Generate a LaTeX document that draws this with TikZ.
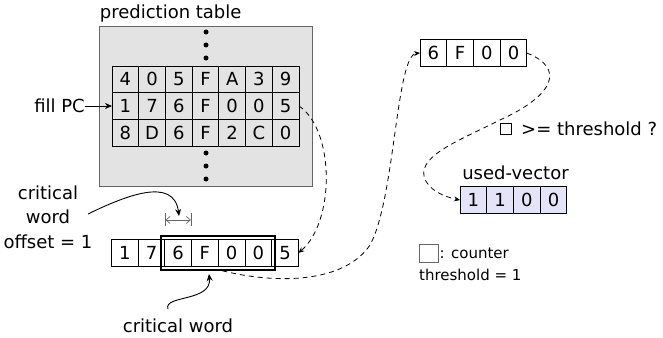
\documentclass[tikz,border=0pt]{standalone}
\usepackage{fontspec}
\setmainfont{DejaVu Sans}
\usetikzlibrary{arrows.meta, fit, backgrounds}
\definecolor{tablefill}{RGB}{227,227,227}
\definecolor{usedfill}{RGB}{228,228,248}

\begin{document}
\begin{tikzpicture}[x=1pt, y=-1pt,
        font=\fontsize{18}{24.5}\selectfont,
        node cell/.style = {rectangle, draw, line width=0.8pt, minimum width=26.7pt, minimum height=26.7pt, inner sep=0pt, outer sep=0pt},
        node used/.style = {node cell, fill=usedfill},
        node dot/.style = {circle, fill=black, inner sep=0pt, minimum size=5pt},  % Style for the dots
        node crit/.style = {rectangle, draw, line width=1.8pt, inner sep=3.5pt},
        node label/.style = {inner sep=0pt},
        legend text/.style = {inner sep=0pt, font=\fontsize{15}{18}\selectfont},
        solid arrow/.style = {line width=0.9pt, -{Stealth[length=7pt, width=6pt]}},
        dashed arrow/.style = {line width=0.8pt, dash pattern=on 5pt off 4pt, -{Stealth[length=6pt, width=5pt]}},
        dim arrow/.style = {draw=black!60, line width=0.7pt, arrows={Bar[width=13pt].Straight Barb[length=4pt, width=7pt]-Straight Barb[length=4pt, width=7pt].Bar[width=13pt]}},
        ]
        \useasboundingbox (0,0) rectangle (663,337);

        % Prediction table rows
        \node[node cell] (T11) at (125.4, 79.3) {4};
        \node[node cell] (T12) at (152.1, 79.3) {0};
        \node[node cell] (T13) at (178.8, 79.3) {5};
        \node[node cell] (T14) at (205.5, 79.3) {F};
        \node[node cell] (T15) at (232.2, 79.3) {A};
        \node[node cell] (T16) at (258.9, 79.3) {3};
        \node[node cell] (T17) at (285.6, 79.3) {9};

        \node[node cell] (T21) at (125.4, 106) {1};
        \node[node cell] (T22) at (152.1, 106) {7};
        \node[node cell] (T23) at (178.8, 106) {6};
        \node[node cell] (T24) at (205.5, 106) {F};
        \node[node cell] (T25) at (232.2, 106) {0};
        \node[node cell] (T26) at (258.9, 106) {0};
        \node[node cell] (T27) at (285.6, 106) {5};

        \node[node cell] (T31) at (125.4, 132.7) {8};
        \node[node cell] (T32) at (152.1, 132.7) {D};
        \node[node cell] (T33) at (178.8, 132.7) {6};
        \node[node cell] (T34) at (205.5, 132.7) {F};
        \node[node cell] (T35) at (232.2, 132.7) {2};
        \node[node cell] (T36) at (258.9, 132.7) {C};
        \node[node cell] (T37) at (285.6, 132.7) {0};

        % Grey box behind the table
        \begin{scope}[on background layer]
            \node[fit=(T11)(T37), fill=tablefill, draw=black!60, line width=0.8pt, inner xsep=13pt, inner ysep=40pt] (ptab) {};
        \end{scope}
        \node[node label, anchor=base west] (ptlabel) at ([xshift=1pt, yshift=7.5pt]ptab.north west) {prediction table};

        \node[node dot] (D1) at (206, 32) {};
        \node[node dot] (D2) at (206, 45) {};
        \node[node dot] (D3) at (206, 58) {};
        \node[node dot] (D4) at (206, 153) {};
        \node[node dot] (D5) at (206, 166) {};
        \node[node dot] (D6) at (206, 179) {};

        \node[node label, anchor=east] (fillpc) at (85, 106) {fill PC};
        \draw[solid arrow] (fillpc) -- (T21);

        % Fetched line
        \node[node cell] (B1) at (124.8, 253) {1};
        \node[node cell] (B2) at (151.5, 253) {7};
        \node[node cell] (B3) at (178.2, 253) {6};
        \node[node cell] (B4) at (204.9, 253) {F};
        \node[node cell] (B5) at (231.6, 253) {0};
        \node[node cell] (B6) at (258.3, 253) {0};
        \node[node cell] (B7) at (285.0, 253) {5};
        \node[node crit, fit=(B3)(B6)] (crit) {};

        \draw[dim arrow] ([yshift=19.7pt]B3.north west) -- ([yshift=19.7pt]B3.north east);

        \node[node label, align=center] (offlbl) at (48, 217) {critical\\word\\offset = 1};
        \coordinate (offtail) at (88, 214);
        \coordinate (offtip) at (179, 216);
        \draw[solid arrow] (offtail) .. controls (125,196) and (174,176) .. (offtip);

        \node[node label] (cwlbl) at (178, 326) {critical word};
        \coordinate (cwtail) at (168, 309);
        \coordinate (cwtip) at (209, 274);
        \draw[solid arrow] (cwtail) .. controls (163,295) and (212,302) .. (cwtip);

        % Critical word copy
        \node[node cell] (C1) at (433.4, 53) {6};
        \node[node cell] (C2) at (460.1, 53) {F};
        \node[node cell] (C3) at (486.8, 53) {0};
        \node[node cell] (C4) at (513.5, 53) {0};

        % Used vector
        \node[node used] (U1) at (473.4, 200) {1};
        \node[node used] (U2) at (500.1, 200) {1};
        \node[node used] (U3) at (526.8, 200) {0};
        \node[node used] (U4) at (553.5, 200) {0};
        \node[node label, anchor=base] (uvlabel) at ([xshift=2pt, yshift=7pt]U2.north east) {used-vector};

        \node[draw, line width=0.8pt, minimum width=11pt, minimum height=11pt, inner sep=0pt] (thbox) at (505.5, 128.5) {};
        \node[node label, anchor=west] (thtext) at (521, 129) {>= threshold ?};

        % Legend
        \node[draw=black!60, line width=1pt, minimum width=19pt, minimum height=18pt, inner sep=0pt] (legbox) at (428.5, 253) {};
        \node[legend text, anchor=west] (legtxt) at ([xshift=1pt]legbox.east) {: counter};
        \node[legend text, anchor=west] (legthr) at (419, 275) {threshold = 1};

        % Dashed connections
        \draw[dashed arrow] (T27.east) .. controls (335,130) and (335,222) .. (B7.east);
        \draw[dashed arrow] ([xshift=4pt]crit.south) .. controls (280,285) and (345,282) .. (370,245)
            .. controls (395,200) and (396,55) .. (C1.west);
        \draw[dashed arrow] (C4.east) .. controls (565,68) and (555,95) .. (500,120)
            .. controls (460,140) and (420,155) .. (424,176) .. controls (427,190) and (445,197) .. (U1.west);
    \end{tikzpicture}
\end{document}
